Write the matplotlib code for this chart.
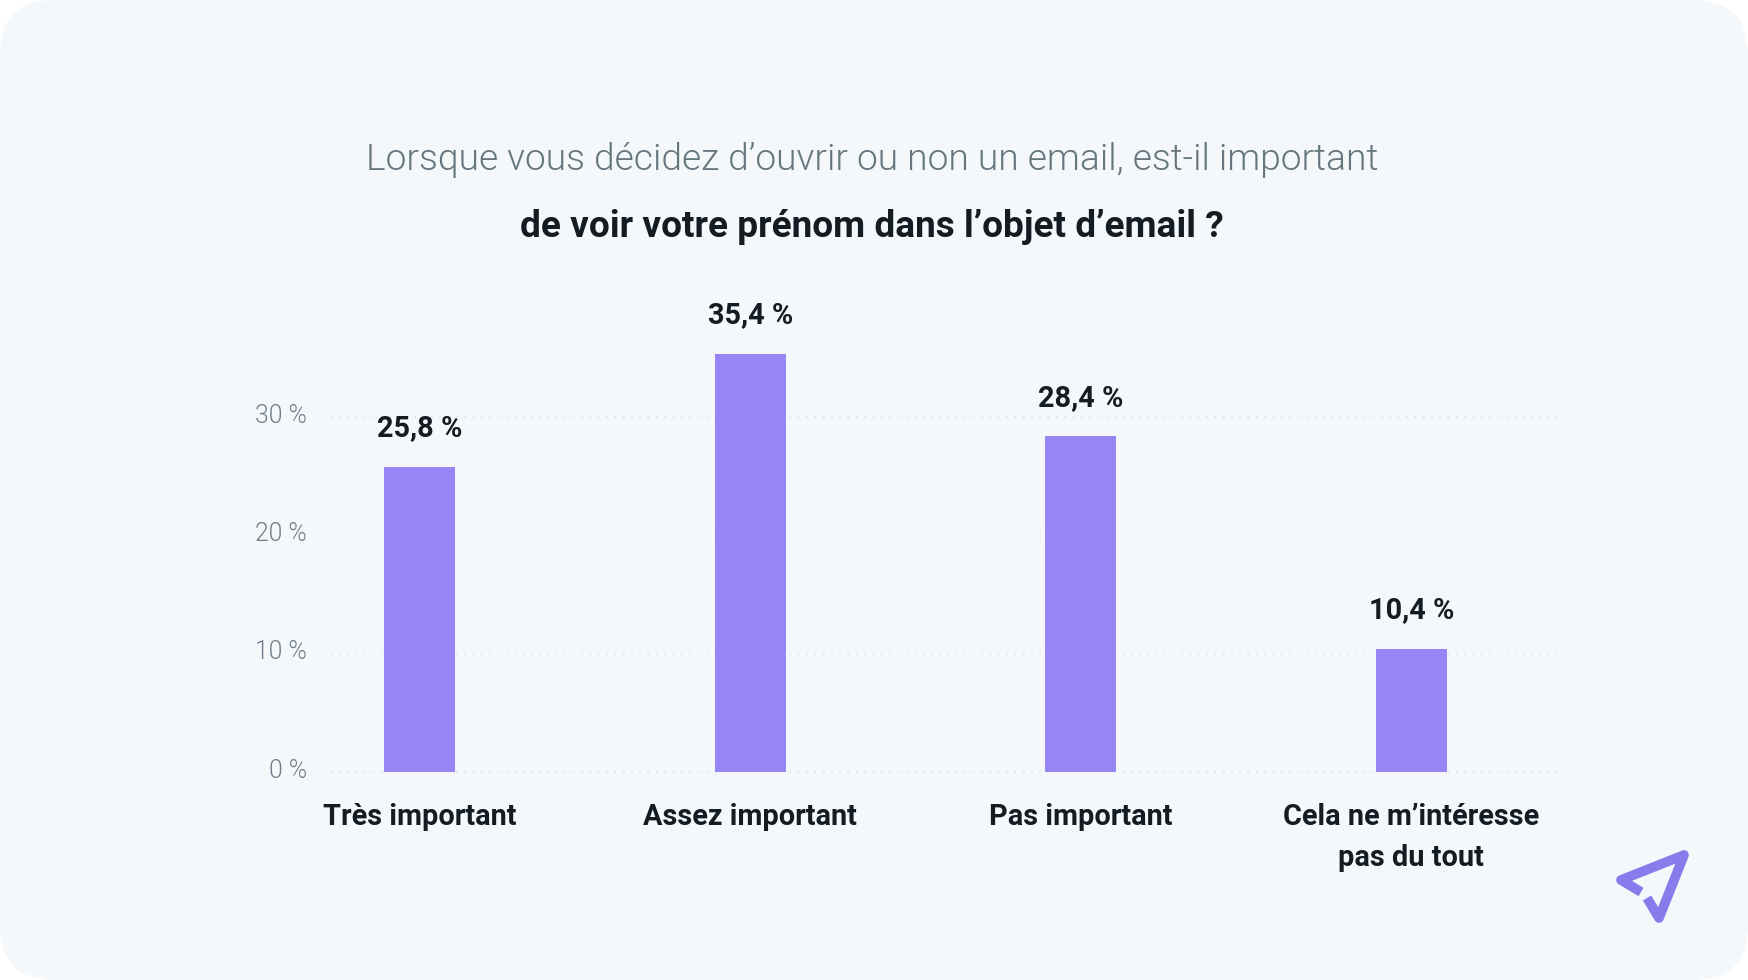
import matplotlib
matplotlib.use("Agg")
import matplotlib.pyplot as plt
from matplotlib.patches import FancyBboxPatch, PathPatch
from matplotlib.path import Path

categories = ["Très important", "Assez important", "Pas important", "Cela ne m’intéresse\npas du tout"]
values = [25.8, 35.4, 28.4, 10.4]
value_labels = ["25,8 %", "35,4 %", "28,4 %", "10,4 %"]
y_ticks = [0, 10, 20, 30]
y_tick_labels = ["0 %", "10 %", "20 %", "30 %"]

W, H = 1748, 980
BAR_COLOR = "#9885F5"
DARK = "#141C23"
GREY = "#6F7D8A"

plt.rcParams["font.family"] = ["Roboto", "DejaVu Sans"]

fig = plt.figure(figsize=(W / 100, H / 100), dpi=100, facecolor="white")

# rounded card behind everything
card = FancyBboxPatch((0, 0), W, H, boxstyle="round,pad=0,rounding_size=55",
                      transform=None, facecolor="#F4F8FB", edgecolor="none", zorder=-1)
fig.add_artist(card)


def px(x, y):
    return x / W, 1 - y / H


ax = fig.add_axes([331 / W, 1 - 772 / H, (1560 - 331) / W, 472.8 / H])
ax.patch.set_visible(False)
positions = list(range(len(categories)))
ax.bar(positions, values, width=0.215, color=BAR_COLOR, zorder=3)
ax.set_xlim(-0.268, 3.45)
ax.set_ylim(0, 40)
for s in ax.spines.values():
    s.set_visible(False)
ax.set_yticks(y_ticks)
ax.set_yticklabels([])
ax.tick_params(axis="y", length=0)
ax.set_xticks(positions)
ax.set_xticklabels(categories, fontsize=20.8, fontweight="bold", color=DARK, linespacing=1.59)
ax.tick_params(axis="x", length=0, pad=22.5)
ax.grid(axis="y", color="#DDE3E8", linestyle=(0, (1, 4)), linewidth=1.2, zorder=0)
ax.set_axisbelow(True)
ax.yaxis.get_gridlines()[0].set_clip_on(False)

# y labels sit a little above their grid line
for t, lab in zip(y_ticks, y_tick_labels):
    ax.annotate(lab, (0, t), xycoords=ax.get_yaxis_transform(), xytext=(-24, 4), textcoords="offset pixels",
                ha="right", va="center_baseline", fontsize=17.8, fontweight=300, color=GREY)

for pos, val, lab in zip(positions, values, value_labels):
    ax.annotate(lab, (pos, val), xytext=(0, 38.5), textcoords="offset pixels",
                ha="center", va="center", fontsize=20.8, fontweight="bold", color=DARK)

x, y = px(872, 159.5)
fig.text(x, y, "Lorsque vous décidez d’ouvrir ou non un email, est-il important",
         ha="center", va="center", fontsize=26.7, fontweight=300, color="#66767F")
x, y = px(872, 227)
fig.text(x, y, "de voir votre prénom dans l’objet d’email ?",
         ha="center", va="center", fontsize=26.65, fontweight="bold", color=DARK)

# paper plane logo
verts = [(1641, 892), (1621, 880), (1684, 855), (1659, 918), (1647, 898)]
plane = Path([(a, H - b) for a, b in verts])
fig.add_artist(PathPatch(plane, transform=None, facecolor="none", edgecolor="#8A7BEC",
                         linewidth=7, joinstyle="round", capstyle="butt"))

fig.savefig("out.png", dpi=100, facecolor="white")
